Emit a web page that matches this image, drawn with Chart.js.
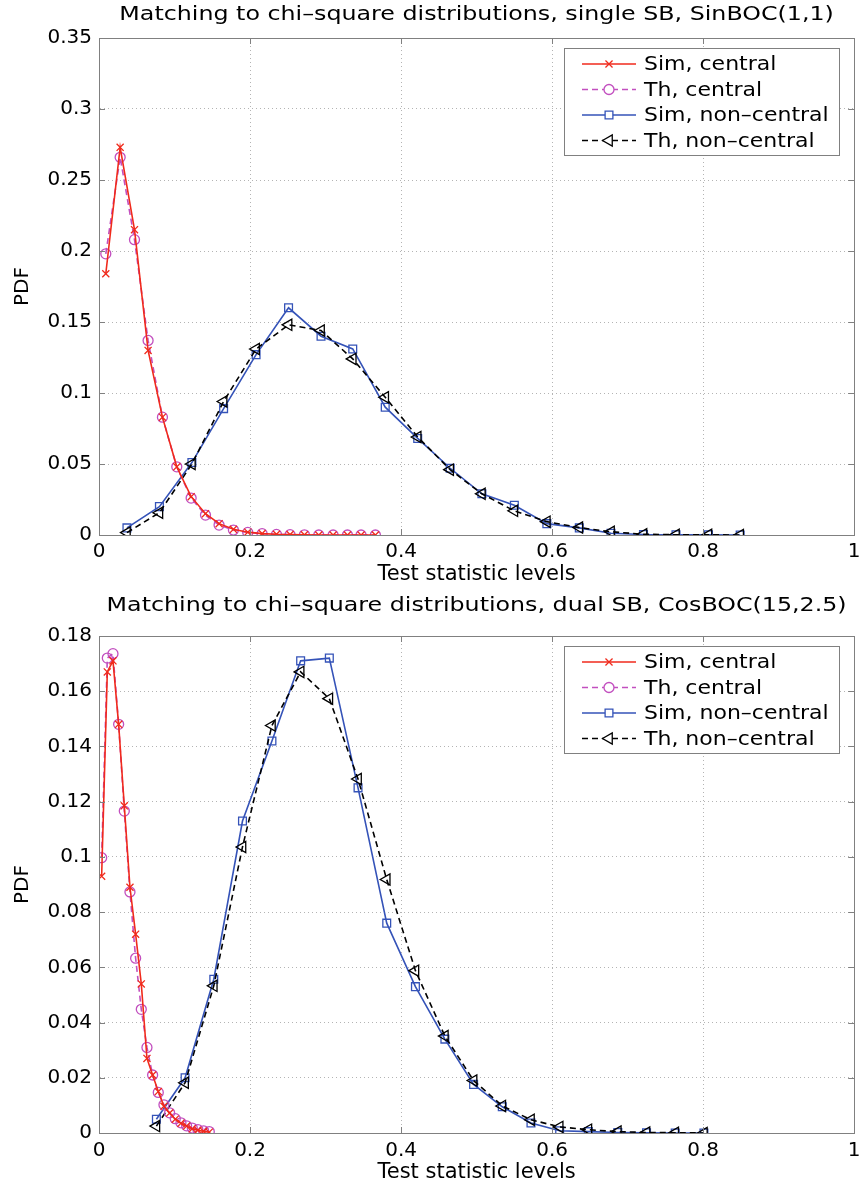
<!DOCTYPE html>
<html>
<head>
<meta charset="utf-8">
<script src="https://cdn.jsdelivr.net/npm/chart.js@4.4.0/dist/chart.umd.min.js"></script>
<style>
  html, body { margin: 0; padding: 0; background: #fff; }
  #wrap { position: relative; width: 862px; height: 1186px; overflow: hidden; }
  canvas { position: absolute; left: 0; }
</style>
</head>
<body>
<div id="wrap">
  <canvas id="chart-top" width="862" height="590" style="top:0"></canvas>
  <canvas id="chart-bottom" width="862" height="596" style="top:590px"></canvas>
</div>
<script>
// ---- data: single SB, SinBOC(1,1) ----
const xCentral1 = [0.009, 0.028, 0.047, 0.065, 0.084, 0.103, 0.122, 0.141, 0.159, 0.178, 0.197, 0.216, 0.235, 0.253, 0.272, 0.291, 0.310, 0.329, 0.347, 0.366];
const simCentral1 = [0.184, 0.273, 0.215, 0.130, 0.083, 0.048, 0.027, 0.015, 0.008, 0.004, 0.002, 0.001, 0.0005, 0.0003, 0.0001, 0, 0, 0, 0, 0];
const thCentral1 = [0.198, 0.266, 0.208, 0.137, 0.083, 0.048, 0.026, 0.014, 0.007, 0.0035, 0.0018, 0.0009, 0.0004, 0.0002, 0.0001, 0, 0, 0, 0, 0];
const xNonCentral1 = [0.037, 0.080, 0.123, 0.165, 0.208, 0.251, 0.294, 0.336, 0.379, 0.422, 0.465, 0.507, 0.550, 0.593, 0.636, 0.678, 0.721, 0.764, 0.807, 0.849];
const simNonCentral1 = [0.005, 0.020, 0.051, 0.089, 0.127, 0.160, 0.140, 0.131, 0.090, 0.068, 0.047, 0.029, 0.021, 0.008, 0.005, 0.0012, 0.0004, 0.0002, 0.0001, 0];
const thNonCentral1 = [0.0017, 0.0157, 0.050, 0.094, 0.131, 0.148, 0.144, 0.124, 0.097, 0.069, 0.046, 0.029, 0.017, 0.0094, 0.0052, 0.0023, 0.0005, 0.0002, 0.0001, 0];

// ---- data: dual SB, CosBOC(15,2.5) ----
const xCentral2 = [0.0035, 0.011, 0.0185, 0.026, 0.0335, 0.041, 0.0485, 0.056, 0.0635, 0.071, 0.0785, 0.086, 0.0935, 0.101, 0.1085, 0.116, 0.1235, 0.131, 0.1385, 0.146];
const simCentral2 = [0.093, 0.167, 0.171, 0.148, 0.1185, 0.089, 0.072, 0.054, 0.027, 0.021, 0.015, 0.0097, 0.0072, 0.005, 0.0035, 0.0025, 0.0015, 0.001, 0.0006, 0.0003];
const thCentral2 = [0.0997, 0.172, 0.1736, 0.148, 0.1166, 0.0873, 0.0633, 0.0448, 0.031, 0.021, 0.0147, 0.0102, 0.0073, 0.0052, 0.0037, 0.0026, 0.0018, 0.0012, 0.0008, 0.0005];
const xNonCentral2 = [0.076, 0.114, 0.152, 0.190, 0.229, 0.267, 0.305, 0.343, 0.381, 0.419, 0.458, 0.496, 0.534, 0.572, 0.610, 0.648, 0.687, 0.725, 0.763, 0.801];
const simNonCentral2 = [0.005, 0.020, 0.0557, 0.113, 0.142, 0.171, 0.172, 0.125, 0.076, 0.053, 0.034, 0.0176, 0.0095, 0.0036, 0.0008, 0.0005, 0.0002, 0.0001, 0, 0];
const thNonCentral2 = [0.0025, 0.0182, 0.0533, 0.1036, 0.1476, 0.167, 0.1573, 0.1282, 0.0918, 0.0588, 0.0351, 0.019, 0.0098, 0.0048, 0.0022, 0.0012, 0.0005, 0.0002, 0.0001, 0];

const legendLabels = ['Sim, central', 'Th, central', 'Sim, non\u2013central', 'Th, non\u2013central'];
const xTicks = { min: 0, max: 1, step: 0.2 };

const FONT = 'DejaVu Sans';
const FSIZE = 20;

// look of each series (MATLAB style)
const styles = [
  { color: '#f02a1c', dash: [], point: 'crossRot', radius: 5, rot: 0, order: 1 },
  { color: '#c24fbf', dash: [6, 4], point: 'circle', radius: 5, rot: 0, order: 2 },
  { color: '#3553b8', dash: [], point: 'rect', radius: 5.5, rot: 0, order: 4 },
  { color: '#000000', dash: [6, 4], point: 'triangle', radius: 6.5, rot: -90, order: 3 }
];

function pairs(xs, ys) {
  return xs.map((x, i) => ({ x: x, y: ys[i] }));
}

function fmt(v) {
  return String(Math.round(v * 1000) / 1000);
}

// text a bit wider than the font, like the MATLAB export
function wideText(ctx, text, x, y, sx) {
  ctx.save();
  ctx.translate(x, y);
  ctx.scale(sx, 1);
  ctx.fillText(text, 0, 0);
  ctx.restore();
}

// draw one legend marker by hand
function drawMarker(ctx, st, x, y) {
  const r = st.radius;
  ctx.beginPath();
  if (st.point === 'crossRot') {
    const d = r * Math.SQRT1_2;
    ctx.moveTo(x - d, y - d); ctx.lineTo(x + d, y + d);
    ctx.moveTo(x - d, y + d); ctx.lineTo(x + d, y - d);
  } else if (st.point === 'circle') {
    ctx.arc(x, y, r, 0, Math.PI * 2);
  } else if (st.point === 'rect') {
    const s = r * Math.SQRT1_2;
    ctx.rect(x - s, y - s, 2 * s, 2 * s);
  } else {
    ctx.moveTo(x - r, y);
    ctx.lineTo(x + r * 0.5, y - r * 0.866);
    ctx.lineTo(x + r * 0.5, y + r * 0.866);
    ctx.closePath();
  }
  ctx.fillStyle = '#fff';
  ctx.fill();
  ctx.stroke();
}

// box around the axes + inward tick marks, the title and the legend
const matlabFrame = {
  id: 'matlabFrame',
  afterDatasetsDraw(chart) {
    const ca = chart.chartArea, ctx = chart.ctx;
    ctx.save();
    ctx.strokeStyle = '#808080';
    ctx.lineWidth = 1;
    ctx.setLineDash([]);
    ctx.strokeRect(Math.round(ca.left) + 0.5, Math.round(ca.top) + 0.5, Math.round(ca.right - ca.left), Math.round(ca.bottom - ca.top));
    const xs = chart.scales.x, ys = chart.scales.y;
    ctx.beginPath();
    xs.ticks.forEach(t => {
      const px = Math.round(xs.getPixelForValue(t.value)) + 0.5;
      ctx.moveTo(px, ca.bottom); ctx.lineTo(px, ca.bottom - 6);
      ctx.moveTo(px, ca.top); ctx.lineTo(px, ca.top + 6);
    });
    ys.ticks.forEach(t => {
      const py = Math.round(ys.getPixelForValue(t.value)) + 0.5;
      ctx.moveTo(ca.left, py); ctx.lineTo(ca.left + 6, py);
      ctx.moveTo(ca.right, py); ctx.lineTo(ca.right - 6, py);
    });
    ctx.stroke();
    ctx.restore();
  },
  afterDraw(chart) {
    const ca = chart.chartArea, ctx = chart.ctx;
    const opt = chart.options.plugins.matlabFrame;
    ctx.save();

    // title, centred over the axes
    ctx.fillStyle = '#000';
    ctx.font = '19px "' + FONT + '"';
    ctx.textAlign = 'center';
    ctx.textBaseline = 'middle';
    wideText(ctx, opt.title, (ca.left + ca.right) / 2, opt.titleY, 1.25);

    // legend
    const w = 275, h = 107;
    const x0 = Math.round(ca.right - 15 - w), y0 = Math.round(ca.top + 10);
    ctx.fillStyle = '#fff';
    ctx.fillRect(x0, y0, w, h);
    ctx.strokeStyle = '#808080';
    ctx.lineWidth = 1;
    ctx.strokeRect(x0 + 0.5, y0 + 0.5, w, h);
    ctx.font = FSIZE + 'px "' + FONT + '"';
    ctx.textAlign = 'left';
    legendLabels.forEach((lab, i) => {
      const st = styles[i];
      const y = y0 + 16 + i * 25.5;
      ctx.strokeStyle = st.color;
      ctx.lineWidth = 1.5;
      ctx.setLineDash(st.dash);
      ctx.beginPath();
      ctx.moveTo(x0 + 18, y); ctx.lineTo(x0 + 72, y);
      ctx.stroke();
      ctx.setLineDash([]);
      ctx.lineWidth = 1.3;
      drawMarker(ctx, st, x0 + 45, y);
      ctx.fillStyle = '#000';
      wideText(ctx, lab, x0 + 80, y + 1, 1.1);
    });
    ctx.restore();
  }
};

function makeChart(id, opt) {
  const series = [
    pairs(opt.xc, opt.simC), pairs(opt.xc, opt.thC),
    pairs(opt.xn, opt.simN), pairs(opt.xn, opt.thN)
  ];
  const datasets = series.map((d, i) => ({
    label: legendLabels[i],
    data: d,
    borderColor: styles[i].color,
    backgroundColor: 'rgba(255,255,255,0)',
    borderWidth: 1.6,
    borderDash: styles[i].dash,
    pointStyle: styles[i].point,
    pointRadius: styles[i].radius,
    pointRotation: styles[i].rot,
    pointBorderWidth: 1.3,
    pointBorderColor: styles[i].color,
    pointBackgroundColor: 'rgba(255,255,255,0)',
    tension: 0,
    order: styles[i].order
  }));

  return new Chart(document.getElementById(id), {
    type: 'line',
    data: { datasets: datasets },
    options: {
      responsive: false,
      animation: false,
      devicePixelRatio: 1,
      layout: { padding: { left: 0, right: 4, top: opt.plotTop, bottom: 0 } },
      plugins: {
        legend: { display: false },
        tooltip: { enabled: false },
        title: { display: false },
        matlabFrame: { title: opt.title, titleY: opt.titleY }
      },
      scales: {
        x: {
          type: 'linear',
          min: xTicks.min, max: xTicks.max,
          ticks: { stepSize: xTicks.step, callback: fmt, color: '#000', padding: opt.xTickPad, font: { family: FONT, size: FSIZE } },
          grid: { color: '#b4b4b4', drawTicks: false },
          border: { color: '#808080', dash: [1, 3] },
          title: { display: true, text: 'Test statistic levels', color: '#000', font: { family: FONT, size: 21 }, padding: { top: 0, bottom: opt.xTitlePad } },
          afterFit: s => { s.height = opt.xAxisH; s.paddingLeft = 0; s.paddingRight = 0; }
        },
        y: {
          min: 0, max: opt.yMax,
          ticks: { stepSize: opt.yStep, callback: fmt, color: '#000', padding: 7, font: { family: FONT, size: FSIZE } },
          grid: { color: '#b4b4b4', drawTicks: false },
          border: { color: '#808080', dash: [1, 3] },
          title: { display: true, text: 'PDF', color: '#000', font: { family: FONT, size: FSIZE }, padding: { top: 11, bottom: 0 } },
          afterFit: s => { s.width = 99; s.paddingTop = 0; s.paddingBottom = 0; }
        }
      }
    },
    plugins: [matlabFrame]
  });
}

makeChart('chart-top', {
  title: 'Matching to chi\u2013square distributions, single SB, SinBOC(1,1)',
  xc: xCentral1, simC: simCentral1, thC: thCentral1,
  xn: xNonCentral1, simN: simNonCentral1, thN: thNonCentral1,
  yMax: 0.35, yStep: 0.05,
  plotTop: 38, titleY: 15, xAxisH: 55, xTickPad: 5, xTitlePad: 3
});

makeChart('chart-bottom', {
  title: 'Matching to chi\u2013square distributions, dual SB, CosBOC(15,2.5)',
  xc: xCentral2, simC: simCentral2, thC: thCentral2,
  xn: xNonCentral2, simN: simNonCentral2, thN: thNonCentral2,
  yMax: 0.18, yStep: 0.02,
  plotTop: 46, titleY: 16, xAxisH: 53, xTickPad: 6, xTitlePad: 1
});
</script>
</body>
</html>
